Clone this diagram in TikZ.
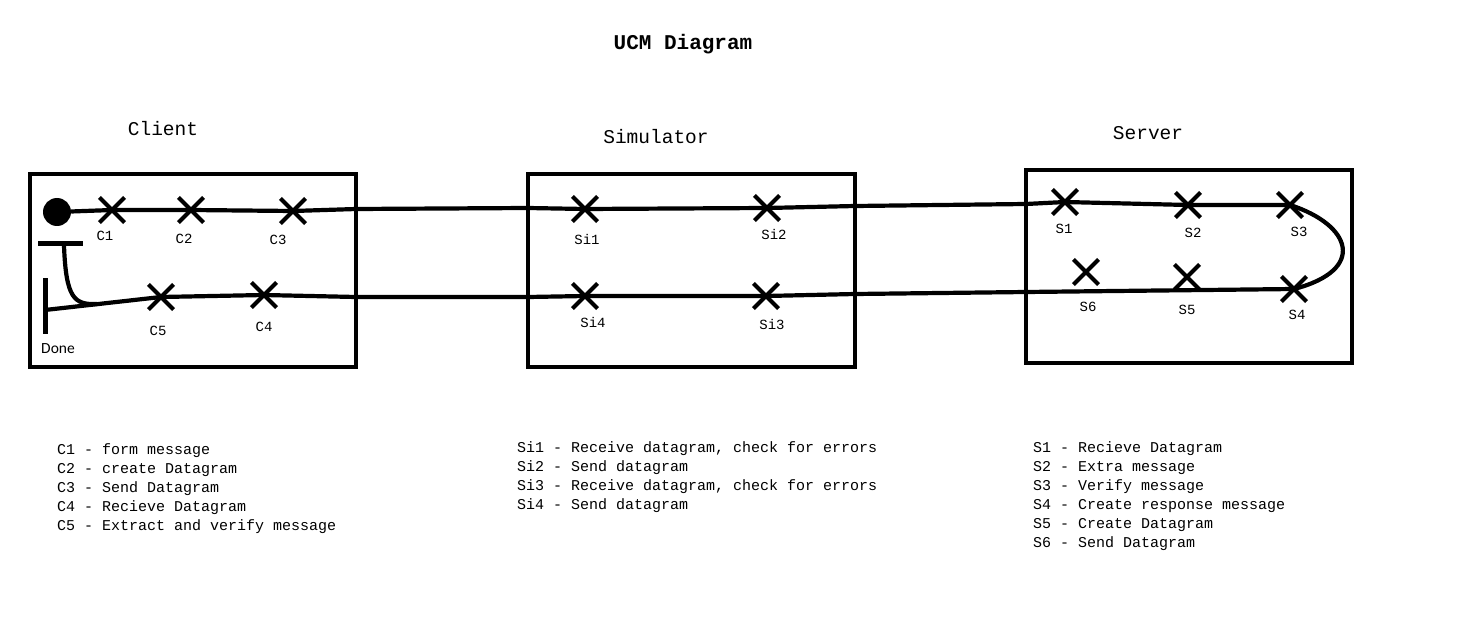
\documentclass[tikz,border=0pt]{standalone}
\usepackage{fontspec}
\usetikzlibrary{shapes.misc}
\newfontfamily\monof{Liberation Mono}
\newfontfamily\carlf{Carlito}
\begin{document}
\begin{tikzpicture}[x=1pt,y=-1pt,
  comp/.style={draw, line width=4pt},
  ucm/.style={line width=4.2pt},
  resp/.style={cross out, draw, line width=4.2pt, minimum size=21pt, inner sep=0pt},
  lbl/.style={font=\monof\fontsize{14}{16}\selectfont, inner sep=0pt},
  head/.style={font=\monof\fontsize{19.5}{22}\selectfont, inner sep=0pt},
  legend/.style={font=\monof\fontsize{15}{19}\selectfont, anchor=base west, inner sep=0pt}]
\useasboundingbox[fill=white] (0,0) rectangle (1475,639);

% title and headings
\node[font=\monof\bfseries\fontsize{21}{24}\selectfont, inner sep=0pt] (title) at (683,44) {UCM Diagram};
\node[head] (hclient) at (163,129) {Client};
\node[head] (hsim) at (656,137) {Simulator};
\node[head] (hserver) at (1148,133) {Server};

% components
\node[comp, minimum width=326pt, minimum height=193pt, inner sep=0pt] (client) at (193,270.5) {};
\node[comp, minimum width=327pt, minimum height=193pt, inner sep=0pt] (sim) at (691.5,270.5) {};
\node[comp, minimum width=326pt, minimum height=193pt, inner sep=0pt] (server) at (1189,266.5) {};

% start, end
\node[circle, fill, minimum size=28pt, inner sep=0pt] (start) at (57,212) {};
\node[fill, minimum width=45pt, minimum height=5pt, inner sep=0pt] (bar) at (60,243) {};
\node[fill, minimum width=5pt, minimum height=56pt, inner sep=0pt] (done) at (45,306) {};
\node[font=\carlf\fontsize{15.5}{18}\selectfont, inner sep=0pt] (donelbl) at (58,349) {Done};

% responsibilities
\node[resp] (C1) at (112,210) {};
\node[resp] (C2) at (191,210) {};
\node[resp] (C3) at (293,211) {};
\node[resp] (C4) at (264,295) {};
\node[resp] (C5) at (161,297) {};
\node[resp] (Si1) at (585,209) {};
\node[resp] (Si2) at (767,208) {};
\node[resp] (Si3) at (766,296) {};
\node[resp] (Si4) at (585,296) {};
\node[resp] (S1) at (1065,202) {};
\node[resp] (S2) at (1188,205) {};
\node[resp] (S3) at (1290,205) {};
\node[resp] (S4) at (1294,289) {};
\node[resp] (S5) at (1187,277) {};
\node[resp] (S6) at (1086,272) {};

\node[lbl] at (105,236) {C1};
\node[lbl] at (184,239) {C2};
\node[lbl] at (278,240) {C3};
\node[lbl] at (264,327) {C4};
\node[lbl] at (158,331) {C5};
\node[lbl] at (587,239) {Si1};
\node[lbl] at (774,234) {Si2};
\node[lbl] at (772,324) {Si3};
\node[lbl] at (593,322) {Si4};
\node[lbl] at (1064,229) {S1};
\node[lbl] at (1193,233) {S2};
\node[lbl] at (1299,232) {S3};
\node[lbl] at (1297,315) {S4};
\node[lbl] at (1187,310) {S5};
\node[lbl] at (1088,307) {S6};

% path
\coordinate (p1) at (356,209);
\coordinate (p2) at (528,208);
\coordinate (p3) at (855,206);
\coordinate (p4) at (1026,204);
\coordinate (q1) at (1026,292);
\coordinate (q2) at (855,294);
\coordinate (q3) at (528,297);
\coordinate (q4) at (356,297);
\coordinate (dend) at (45,310);
\coordinate (join) at (97,304);
\draw[ucm] (start) -- (C1.center) -- (C2.center) -- (C3.center) -- (p1) -- (p2)
  -- (Si1.center) -- (Si2.center) -- (p3) -- (p4) -- (S1.center) -- (S2.center) -- (S3.center)
  .. controls (1352,225) and (1367,270) .. (S4.center)
  -- (q1) -- (q2) -- (Si3.center) -- (Si4.center) -- (q3) -- (q4) -- (C4.center) -- (C5.center) -- (dend);
\draw[ucm] ([xshift=4pt]bar.south) .. controls (66,298) and (74,305) .. (join);

% legends
\node[legend] (lc1) at (57,454) {C1 - form message};
\node[legend] (lc2) at (57,473) {C2 - create Datagram};
\node[legend] (lc3) at (57,492) {C3 - Send Datagram};
\node[legend] (lc4) at (57,511) {C4 - Recieve Datagram};
\node[legend] (lc5) at (57,530) {C5 - Extract and verify message};

\node[legend] (ls1) at (517,452) {Si1 - Receive datagram, check for errors};
\node[legend] (ls2) at (517,471) {Si2 - Send datagram};
\node[legend] (ls3) at (517,490) {Si3 - Receive datagram, check for errors};
\node[legend] (ls4) at (517,509) {Si4 - Send datagram};

\node[legend] (lv1) at (1033,452) {S1 - Recieve Datagram};
\node[legend] (lv2) at (1033,471) {S2 - Extra message};
\node[legend] (lv3) at (1033,490) {S3 - Verify message};
\node[legend] (lv4) at (1033,509) {S4 - Create response message};
\node[legend] (lv5) at (1033,528) {S5 - Create Datagram};
\node[legend] (lv6) at (1033,547) {S6 - Send Datagram};
\end{tikzpicture}
\end{document}
